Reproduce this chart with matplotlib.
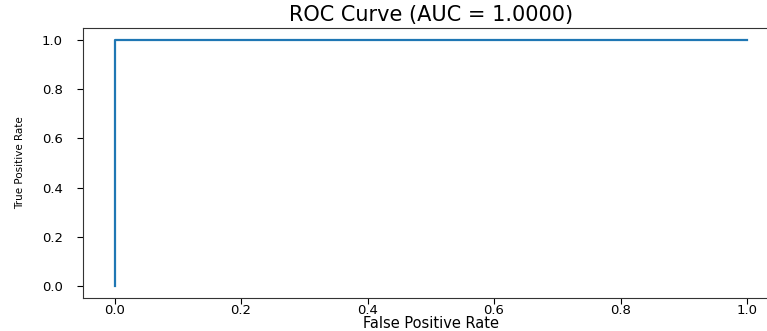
import matplotlib
matplotlib.use("Agg")
import matplotlib.pyplot as plt

fpr = [0.0, 0.0, 1.0]
tpr = [0.0, 1.0, 1.0]
auc_value = 1.0
xticks = [0.0, 0.2, 0.4, 0.6, 0.8, 1.0]
yticks = [0.0, 0.2, 0.4, 0.6, 0.8, 1.0]

W, H = 767, 331
fig = plt.figure(figsize=(W / 100, H / 100), dpi=100)
left, right = 83.0, 778.6
top, bottom = 27.5, 298.3
ax = fig.add_axes([left / W, 1 - bottom / H, (right - left) / W, (bottom - top) / H])
ax.plot(fpr, tpr, color="#1f77b4", lw=1.6)
ax.set_xticks(xticks)
ax.set_yticks(yticks)
ax.set_xticklabels([f"{t:.1f}" for t in xticks], fontsize=9.5)
ax.set_yticklabels([f"{t:.1f}" for t in yticks], fontsize=9.5)
ax.tick_params(axis="x", length=4, pad=0)
ax.tick_params(axis="y", length=4.5, pad=10)
for s in ax.spines.values():
    s.set_color("#333333")
ax.set_title(f"ROC Curve (AUC = {auc_value:.4f})", fontsize=15, pad=5)
ax.set_xlabel("False Positive Rate", fontsize=10.5)
ax.xaxis.set_label_coords(0.5, (bottom - 316.5) / (bottom - top))
ax.set_ylabel("True Positive Rate", fontsize=7.5)
ax.yaxis.set_label_coords((25 - left) / (right - left), 0.5)
fig.savefig("out.png", dpi=100)
